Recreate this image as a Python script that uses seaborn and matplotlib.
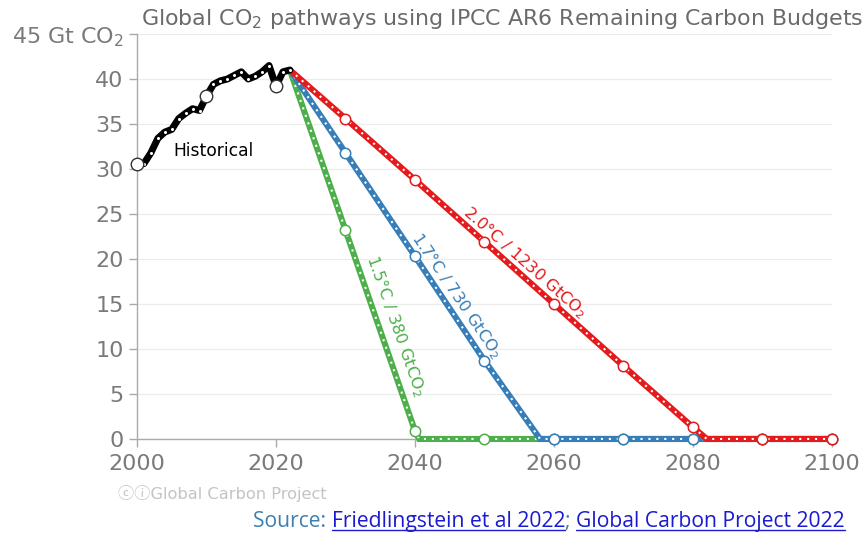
import matplotlib

matplotlib.use("Agg")
import matplotlib.pyplot as plt
import numpy as np
import pandas as pd
import seaborn as sns
from matplotlib.lines import Line2D

# historical emissions, Gt CO2 per year
HIST_YEARS = list(range(2000, 2023))
HIST_VALUES = [30.5, 30.6, 31.8, 33.4, 34.1, 34.4, 35.6, 36.2, 36.7, 36.5,
               38.1, 39.4, 39.8, 40.0, 40.4, 40.8, 40.0, 40.3, 40.8, 41.5,
               39.2, 40.8, 41.0]
HIST_CIRCLES = [2000, 2010, 2020]

# pathway vertices (start, decade points, zero crossing)
GREEN_YEARS = [2022, 2030, 2040, 2040.6, 2050, 2060, 2070, 2080, 2090, 2100]
GREEN_VALUES = [41.0, 23.2, 0.9, 0.0, 0.0, 0.0, 0.0, 0.0, 0.0, 0.0]
BLUE_YEARS = [2022, 2030, 2040, 2050, 2058, 2060, 2070, 2080, 2090, 2100]
BLUE_VALUES = [41.0, 31.8, 20.3, 8.7, 0.0, 0.0, 0.0, 0.0, 0.0, 0.0]
RED_YEARS = [2022, 2030, 2040, 2050, 2060, 2070, 2080, 2082, 2090, 2100]
RED_VALUES = [41.0, 35.6, 28.8, 21.9, 15.0, 8.1, 1.3, 0.0, 0.0, 0.0]

PATHWAY_LABELS = ["1.5°C / 380 GtCO$_2$", "1.7°C / 730 GtCO$_2$", "2.0°C / 1230 GtCO$_2$"]
LABEL_POS = [(2037.2, 12.6), (2046.0, 16.0), (2055.8, 19.6)]

Y_TICKS = [0, 5, 10, 15, 20, 25, 30, 35, 40, 45]
Y_TICK_LABELS = ["0", "5", "10", "15", "20", "25", "30", "35", "40", "45 Gt CO$_2$"]
X_TICKS = [2000, 2020, 2040, 2060, 2080, 2100]

sns.set_theme(style="white")
plt.rcParams["font.family"] = ["DejaVu Sans", "Noto Sans CJK SC"]

colors = sns.color_palette("Set1")
GREEN, BLUE, RED = colors[2], colors[1], colors[0]
GREY_TEXT = "#7a7a7a"

fig = plt.figure(figsize=(8.67, 5.33), dpi=100)
ax = fig.add_axes([0.158, 0.1764, 0.8016, 0.7598])
ax.set_xlim(2000, 2100)
ax.set_ylim(0, 45)


def draw_series(years, values, color, z, lw=4.4):
    df = pd.DataFrame({"year": years, "value": values})
    sns.lineplot(data=df, x="year", y="value", color=color, lw=lw,
                 estimator=None, sort=False, ax=ax, zorder=z,
                 solid_capstyle="butt", solid_joinstyle="miter", clip_on=False)
    ax.plot(years, values, color="white", lw=1.5, linestyle=(0, (1, 2.8)),
            zorder=z + 0.1, clip_on=False)
    marks = [(y, v) for y, v in zip(years, values) if y >= 2030 and float(y) % 10 == 0]
    ax.plot([m[0] for m in marks], [m[1] for m in marks], linestyle="none",
            marker="o", ms=7.5, mfc="white", mec=color, mew=1.1,
            zorder=z + 0.2, clip_on=False)


draw_series(GREEN_YEARS, GREEN_VALUES, GREEN, 3)
draw_series(BLUE_YEARS, BLUE_VALUES, BLUE, 4)
draw_series(RED_YEARS, RED_VALUES, RED, 5)

# historical
hist_df = pd.DataFrame({"year": HIST_YEARS, "value": HIST_VALUES})
sns.lineplot(data=hist_df, x="year", y="value", color="black", lw=5.0,
             estimator=None, ax=ax, zorder=6, clip_on=False)
ax.plot(HIST_YEARS, HIST_VALUES, color="white", linestyle="none", marker="o",
        ms=2.2, mew=0, zorder=6.1, clip_on=False)
circ = [(y, v) for y, v in zip(HIST_YEARS, HIST_VALUES) if y in HIST_CIRCLES]
ax.plot([c[0] for c in circ], [c[1] for c in circ], linestyle="none", marker="o",
        ms=9, mfc="white", mec="#333333", mew=1.0, zorder=6.2, clip_on=False)

ax.text(2005.2, 32.0, "Historical", fontsize=12.3, color="black",
        ha="left", va="center", zorder=7)

# rotated pathway labels following each line
series = [(GREEN_YEARS, GREEN_VALUES, GREEN), (BLUE_YEARS, BLUE_VALUES, BLUE),
          (RED_YEARS, RED_VALUES, RED)]
for (years, values, color), label, pos in zip(series, PATHWAY_LABELS, LABEL_POS):
    i0 = values.index(0.0)
    p0 = ax.transData.transform((years[0], values[0]))
    p1 = ax.transData.transform((years[i0], values[i0]))
    angle = np.degrees(np.arctan2(p1[1] - p0[1], p1[0] - p0[0]))
    ax.text(pos[0], pos[1], label, color=color, fontsize=11.7, rotation=angle,
            rotation_mode="anchor", ha="center", va="center", zorder=8)

ax.set_yticks(Y_TICKS)
ax.set_yticklabels(Y_TICK_LABELS)
ax.set_xticks(X_TICKS)
ax.set_xlabel("")
ax.set_ylabel("")
ax.tick_params(axis="both", colors="#aaaaaa", labelcolor=GREY_TEXT,
               labelsize=16, length=5.5, width=1, direction="out")
ax.tick_params(axis="y", pad=4, left=True)
ax.tick_params(axis="x", pad=5, bottom=True)

ax.grid(axis="y", color="#ececec", lw=0.9)
ax.grid(axis="x", visible=False)
for side in ["top", "right"]:
    ax.spines[side].set_visible(False)
for side in ["left", "bottom"]:
    ax.spines[side].set_color("#aaaaaa")
    ax.spines[side].set_linewidth(1.0)
    ax.spines[side].set_zorder(2)

fig.text(141 / 867, 1 - 25 / 533,
         "Global CO$_2$ pathways using IPCC AR6 Remaining Carbon Budgets",
         fontsize=15.9, color="#6a6a6a", ha="left", va="baseline")

fig.text(118 / 867, 1 - 494 / 533, "ⓒⓘGlobal Carbon Project", fontsize=11.7,
         color="#c4c4c4", ha="left", va="center",
         family=["DejaVu Sans", "Noto Sans CJK SC"])

# source line with link-style parts
parts = [("Source: ", "#3f7fb0", False),
         ("Friedlingstein et al 2022", "#1a1ad0", True),
         ("; ", "#3f7fb0", False),
         ("Global Carbon Project 2022", "#1a1ad0", True)]
fig.canvas.draw()
renderer = fig.canvas.get_renderer()
x_px = 253
base_y = 1 - 527 / 533
for text, color, underline in parts:
    t = fig.text(x_px / 867, base_y, text, fontsize=15.2, color=color,
                 family=["Open Sans", "DejaVu Sans"], ha="left", va="baseline")
    bb = t.get_window_extent(renderer)
    if underline:
        fig.add_artist(Line2D([bb.x0 / 867, bb.x1 / 867],
                              [base_y - 2.5 / 533, base_y - 2.5 / 533],
                              color=color, lw=1.0, transform=fig.transFigure))
    x_px = bb.x1

fig.savefig("out.png", dpi=100)
